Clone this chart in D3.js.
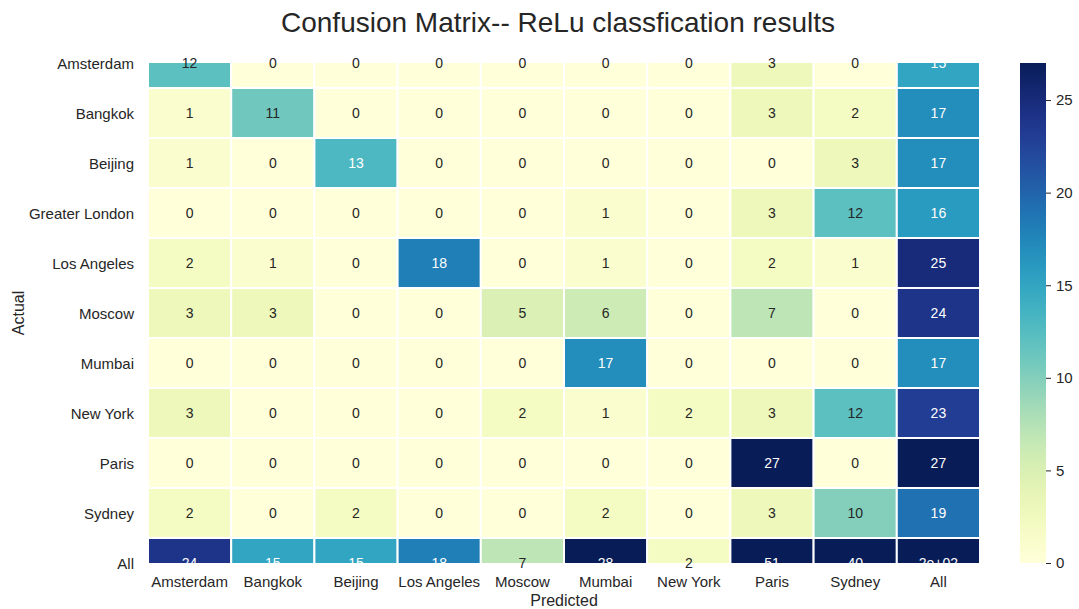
<!DOCTYPE html>
<html>
<head>
<meta charset="utf-8">
<script src="https://cdn.jsdelivr.net/npm/d3@7"></script>
<style>
  body { margin: 0; background: #fff; }
  text { font-family: "Liberation Sans", Arial, sans-serif; fill: #262626; }
</style>
</head>
<body>
<svg id="chart"></svg>
<script>
// rows = actual, columns = predicted
const actualLabels = ["Amsterdam", "Bangkok", "Beijing", "Greater London", "Los Angeles",
  "Moscow", "Mumbai", "New York", "Paris", "Sydney", "All"];
const predictedLabels = ["Amsterdam", "Bangkok", "Beijing", "Los Angeles", "Moscow",
  "Mumbai", "New York", "Paris", "Sydney", "All"];
const counts = [
  [12, 0, 0, 0, 0, 0, 0, 3, 0, 15],
  [1, 11, 0, 0, 0, 0, 0, 3, 2, 17],
  [1, 0, 13, 0, 0, 0, 0, 0, 3, 17],
  [0, 0, 0, 0, 0, 1, 0, 3, 12, 16],
  [2, 1, 0, 18, 0, 1, 0, 2, 1, 25],
  [3, 3, 0, 0, 5, 6, 0, 7, 0, 24],
  [0, 0, 0, 0, 0, 17, 0, 0, 0, 17],
  [3, 0, 0, 0, 2, 1, 2, 3, 12, 23],
  [0, 0, 0, 0, 0, 0, 0, 27, 0, 27],
  [2, 0, 2, 0, 0, 2, 0, 3, 10, 19],
  [24, 15, 15, 18, 7, 28, 2, 51, 40, 200]
];
const colorTicks = [0, 5, 10, 15, 20, 25];
const vmax = 27;

const W = 1079, H = 609;
const svg = d3.select("#chart").attr("width", W).attr("height", H);

// heatmap area (rows extend half a cell beyond the visible region at top and bottom)
const left = 148, right = 980, visTop = 63, visBottom = 563;
const rowH = (visBottom - visTop) / (actualLabels.length - 1);

const x = d3.scaleBand().domain(predictedLabels).range([left, right]);
const y = d3.scaleBand().domain(actualLabels)
  .range([visTop - rowH / 2, visBottom + rowH / 2]);
const color = d3.scaleSequential(d3.interpolateYlGnBu).domain([0, vmax]).clamp(true);

const cells = [];
counts.forEach((row, i) => row.forEach((v, j) => cells.push({r: actualLabels[i], c: predictedLabels[j], v})));

svg.append("clipPath").attr("id", "clip")
  .append("rect").attr("x", left).attr("y", visTop)
  .attr("width", right - left).attr("height", visBottom - visTop);

svg.append("g").attr("clip-path", "url(#clip)")
  .selectAll("rect").data(cells).join("rect")
  .attr("x", d => x(d.c))
  .attr("y", d => y(d.r))
  .attr("width", x.bandwidth())
  .attr("height", y.bandwidth())
  .attr("fill", d => color(d.v))
  .attr("stroke", "#fff")
  .attr("stroke-width", 2);

// annotation colour switches to white on the darker cells
const fmt = v => v >= 100 ? "2e+02" : String(v);

svg.append("g").selectAll("text").data(cells).join("text")
  .attr("x", d => x(d.c) + x.bandwidth() / 2)
  .attr("y", d => y(d.r) + y.bandwidth() / 2)
  .attr("text-anchor", "middle")
  .attr("dominant-baseline", "central")
  .style("font-size", "14px")
  .style("fill", d => d.v >= 13 ? "#ffffff" : "#262626")
  .text(d => fmt(d.v));

// y tick labels
svg.append("g").selectAll("text").data(actualLabels).join("text")
  .attr("x", 134)
  .attr("y", d => y(d) + y.bandwidth() / 2)
  .attr("text-anchor", "end")
  .attr("dominant-baseline", "central")
  .style("font-size", "15px")
  .text(d => d);

// x tick labels
svg.append("g").selectAll("text").data(predictedLabels).join("text")
  .attr("x", d => x(d) + x.bandwidth() / 2)
  .attr("y", 581)
  .attr("text-anchor", "middle")
  .attr("dominant-baseline", "central")
  .style("font-size", "15px")
  .text(d => d);

// axis titles
svg.append("text").attr("x", (left + right) / 2).attr("y", 600)
  .attr("text-anchor", "middle").attr("dominant-baseline", "central")
  .style("font-size", "16px").text("Predicted");
svg.append("text").attr("transform", `translate(18,${(visTop + visBottom) / 2}) rotate(-90)`)
  .attr("text-anchor", "middle").attr("dominant-baseline", "central")
  .style("font-size", "16px").text("Actual");

svg.append("text").attr("x", 558).attr("y", 22)
  .attr("text-anchor", "middle").attr("dominant-baseline", "central")
  .style("font-size", "28px").text("Confusion Matrix-- ReLu classfication results");

// colorbar
const cbX = 1020, cbW = 26;
const cy = d3.scaleLinear().domain([0, vmax]).range([visBottom, visTop]);
const grad = svg.append("defs").append("linearGradient").attr("id", "cbgrad")
  .attr("x1", 0).attr("y1", 1).attr("x2", 0).attr("y2", 0);
d3.range(0, 1.0001, 0.05).forEach(t => {
  grad.append("stop").attr("offset", t).attr("stop-color", color(t * vmax));
});
svg.append("rect").attr("x", cbX).attr("y", visTop)
  .attr("width", cbW).attr("height", visBottom - visTop)
  .attr("fill", "url(#cbgrad)");

const cbAxis = svg.append("g").attr("transform", `translate(${cbX + cbW},0)`)
  .call(d3.axisRight(cy).tickValues(colorTicks).tickSize(5).tickPadding(5));
cbAxis.select(".domain").remove();
cbAxis.selectAll("line").attr("stroke", "#262626");
cbAxis.selectAll("text").style("font-size", "15px").style("fill", "#262626")
  .style("font-family", "Liberation Sans, Arial, sans-serif");
</script>
</body>
</html>
